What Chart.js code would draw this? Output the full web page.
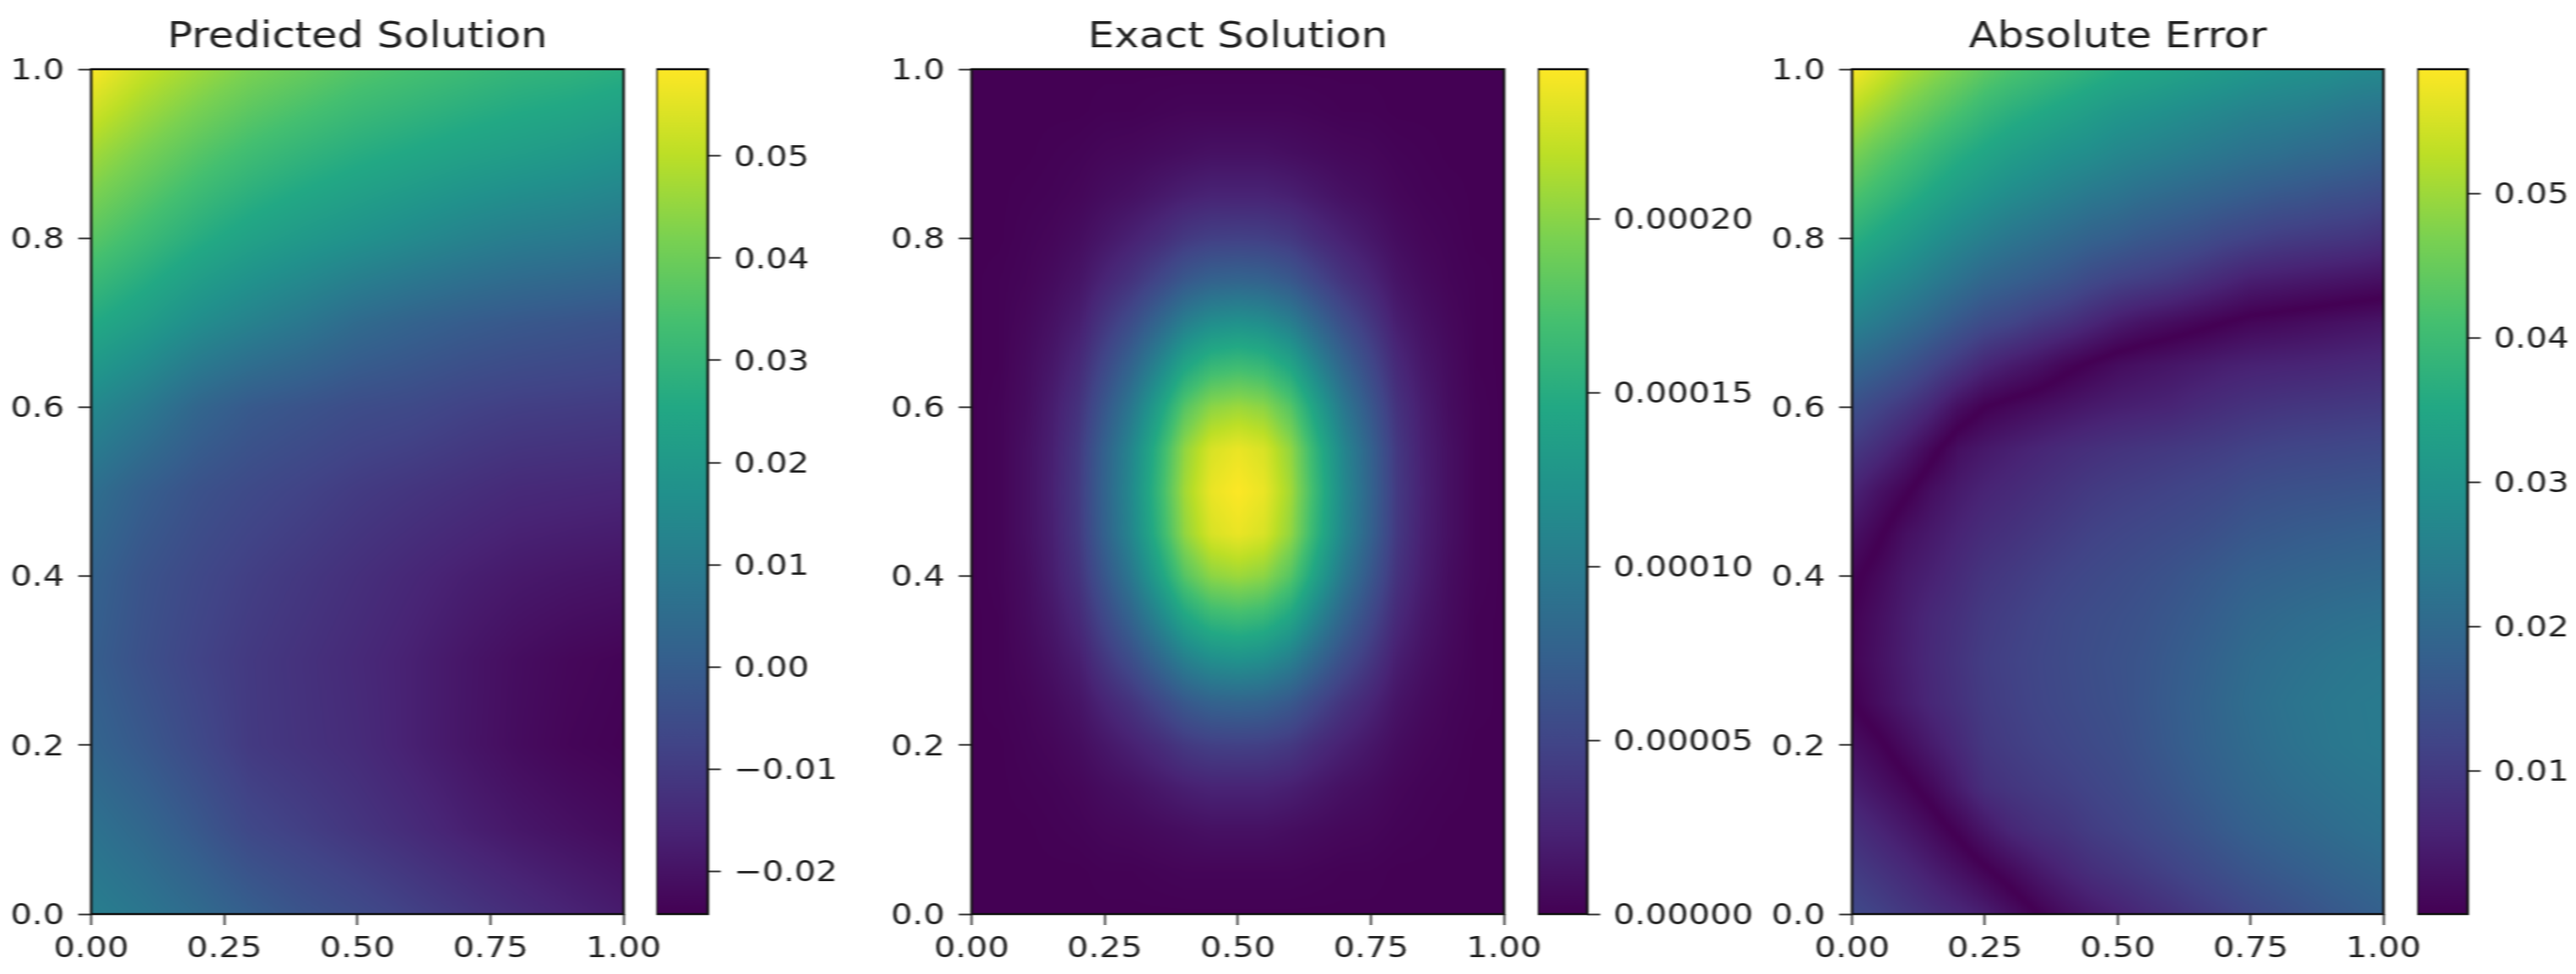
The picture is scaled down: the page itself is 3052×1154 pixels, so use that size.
<!DOCTYPE html>
<html>
<head>
<meta charset="utf-8">
<title>Predicted vs Exact Solution</title>
<script src="https://cdn.jsdelivr.net/npm/chart.js@4"></script>
<style>
    html, body { margin: 0; padding: 0; background: #fff; overflow: hidden; }
    /* the reference is stretched sideways and slightly soft, so the whole sheet is too */
    #sheet { position: absolute; left: 0; top: 0; height: 1154px; transform: scaleX(1.18); transform-origin: 0 0; filter: blur(0.7px); }
    #sheet canvas { position: absolute; top: 0; }
</style>
</head>
<body>
<div id="sheet"></div>
<script>
// Grids run from y=1.0 (first row) down to y=0.0, and from x=0 to x=1 in each row

// Predicted solution, in units of 1e-3
const predictedValues = [
    [58.5, 51.5, 46.5, 42, 39, 36, 34, 32, 30, 29, 27.5],
    [47, 41.5, 36.5, 32.5, 29.5, 27, 25, 23, 21.5, 20, 18],
    [37, 32, 27, 23, 20, 17.5, 15, 12.5, 10.5, 9.5, 8],
    [26, 21.5, 16, 12, 8.5, 4.5, 2, 0, -1.5, -2.5, -3.5],
    [14.5, 9.5, 3, -1, -3, -5, -6, -7.8, -9, -9.5, -10],
    [6, 0.5, -3.5, -6, -8, -10, -11.5, -13, -14.5, -15, -15.5],
    [2, -3, -6.3, -9, -11, -13, -15, -17, -18.5, -19.4, -20],
    [0.5, -4, -7.7, -10.5, -12.5, -14.5, -16.7, -19.2, -21.3, -22.7, -23.5],
    [2.5, -1.5, -6, -10.3, -12.2, -14, -16.7, -19.3, -21.6, -23.2, -24],
    [7, 3.3, -1.5, -6.5, -9, -11.5, -14, -16.8, -19, -20.6, -22],
    [11, 8.2, 4.6, 0.5, -3, -5.5, -8.3, -11, -13.7, -16, -18],
];

// Exact solution, in units of 1e-6
const exactValues = [
    [0, 0, 0, 0, 0, 0, 0, 0, 0, 0, 0, 0, 0, 0, 0, 0, 0, 0, 0, 0, 0],
    [0, 0, 0, 0, 0, 1, 1, 2, 3, 3, 3, 3, 3, 2, 1, 1, 0, 0, 0, 0, 0],
    [0, 0, 0, 1, 2, 4, 5, 7, 9, 11, 11, 11, 9, 7, 5, 4, 2, 1, 0, 0, 0],
    [0, 0, 1, 2, 4, 8, 11, 16, 21, 24, 24, 24, 21, 16, 11, 8, 4, 2, 1, 0, 0],
    [0, 0, 2, 4, 8, 15, 22, 30, 40, 45, 46, 45, 40, 30, 22, 15, 8, 4, 2, 0, 0],
    [0, 1, 3, 7, 13, 25, 36, 51, 67, 76, 78, 76, 67, 51, 36, 25, 13, 7, 3, 1, 0],
    [0, 1, 5, 11, 20, 39, 57, 80, 104, 118, 122, 118, 104, 80, 57, 39, 20, 11, 5, 1, 0],
    [0, 1, 7, 15, 28, 53, 78, 109, 142, 160, 165, 160, 142, 109, 78, 53, 28, 15, 7, 1, 0],
    [0, 2, 8, 19, 35, 66, 97, 136, 178, 201, 207, 201, 178, 136, 97, 66, 35, 19, 8, 2, 0],
    [0, 2, 10, 21, 40, 76, 111, 155, 203, 229, 236, 229, 203, 155, 111, 76, 40, 21, 10, 2, 0],
    [0, 2, 10, 22, 41, 78, 114, 160, 209, 236, 243, 236, 209, 160, 114, 78, 41, 22, 10, 2, 0],
    [0, 2, 10, 21, 40, 76, 111, 155, 203, 229, 236, 229, 203, 155, 111, 76, 40, 21, 10, 2, 0],
    [0, 2, 8, 19, 35, 66, 97, 136, 178, 201, 207, 201, 178, 136, 97, 66, 35, 19, 8, 2, 0],
    [0, 1, 7, 15, 28, 53, 78, 109, 142, 160, 165, 160, 142, 109, 78, 53, 28, 15, 7, 1, 0],
    [0, 1, 5, 11, 20, 39, 57, 80, 104, 118, 122, 118, 104, 80, 57, 39, 20, 11, 5, 1, 0],
    [0, 1, 3, 7, 13, 25, 36, 51, 67, 76, 78, 76, 67, 51, 36, 25, 13, 7, 3, 1, 0],
    [0, 0, 2, 4, 8, 15, 22, 30, 40, 45, 46, 45, 40, 30, 22, 15, 8, 4, 2, 0, 0],
    [0, 0, 1, 2, 4, 8, 11, 16, 21, 24, 24, 24, 21, 16, 11, 8, 4, 2, 1, 0, 0],
    [0, 0, 0, 1, 2, 4, 5, 7, 9, 11, 11, 11, 9, 7, 5, 4, 2, 1, 0, 0, 0],
    [0, 0, 0, 0, 0, 1, 1, 2, 3, 3, 3, 3, 3, 2, 1, 1, 0, 0, 0, 0, 0],
    [0, 0, 0, 0, 0, 0, 0, 0, 0, 0, 0, 0, 0, 0, 0, 0, 0, 0, 0, 0, 0],
];

// Error before taking the magnitude, in units of 1e-3. The sign says which side of the
// dark curve a cell is on, and the magnitude is what gets coloured.
const errorValues = [
    [58.5, 55, 51.5, 49, 46.5, 44, 42, 40.5, 39, 37.5, 36, 35, 34, 33, 32, 31, 30, 29.5, 29, 28, 27.5],
    [52.5, 49.5, 46.5, 44, 41.5, 39, 37, 35.5, 34, 32.5, 31, 30, 29, 28, 27, 26, 25.5, 25, 24, 23, 22.5],
    [47, 44, 41.5, 39, 36.5, 34.5, 32.5, 31, 29.5, 28.5, 27, 26, 25, 24, 23, 22, 21.5, 20.5, 20, 19, 18],
    [42, 39.5, 37, 34.5, 32, 30, 28, 26.5, 25, 23.5, 22.5, 21, 20, 19, 18, 17, 16, 15.5, 14.5, 14, 13],
    [37, 34.5, 32, 29.5, 27, 25, 23, 21.5, 20, 18.5, 17.5, 16, 15, 14, 12.5, 11.5, 10.5, 10, 9.5, 9, 8],
    [31.5, 29, 27, 24.5, 22, 19.5, 18, 16.5, 15, 13, 11.5, 10.5, 9.5, 8, 6.5, 5, 4.5, 4, 3.5, 3, 2.5],
    [26, 24, 21.5, 19, 16, 13.5, 12, 10, 8.5, 6.5, 4.5, 3, 2, 1, 0, -1, -1.5, -2, -2.5, -3, -3.5],
    [20, 18, 15.5, 12.5, 9.5, 6.5, 4.5, 3, 1, -0.5, -2, -2.8, -3.5, -4.2, -5, -5.5, -5.8, -6, -6.3, -6.7, -7],
    [14.5, 12, 9.5, 6.5, 2.5, 0, -1.2, -2.2, -3.2, -4.2, -5, -5.5, -6, -7, -7.8, -8.5, -9, -9.3, -9.5, -9.8, -10],
    [10, 7.5, 4.5, 1, -2.5, -4, -5.2, -6.2, -7.2, -8, -8.7, -9.2, -9.7, -10.2, -10.8, -11.5, -12, -12.3, -12.5, -12.8, -13],
    [6, 3, 0.5, -2.5, -4.5, -6, -7, -8, -9, -10, -10.7, -11.2, -11.8, -12.4, -13, -14, -14.5, -14.8, -15, -15.3, -15.5],
    [3, 0.5, -2.5, -4.2, -6, -7.5, -8.5, -9.5, -10.5, -11.5, -12.2, -12.8, -13.4, -14, -15, -16, -16.5, -17, -17.3, -17.7, -18],
    [0.8, -1.5, -4, -5.5, -7.3, -9, -10, -11, -12, -12.8, -13.5, -14.2, -15, -16, -17, -18, -18.5, -19, -19.4, -19.7, -20],
    [-0.3, -2.5, -4.8, -6.8, -8.3, -10, -11, -12, -13, -13.7, -14.3, -15, -16, -17, -18.2, -19.5, -20.2, -20.8, -21.3, -21.7, -22],
    [-0.6, -2.8, -5, -7, -8.8, -10.5, -11.5, -12.4, -13.2, -14, -14.7, -15.5, -16.7, -17.8, -19.2, -20.5, -21.3, -22, -22.7, -23.2, -23.5],
    [0.2, -2.2, -4.5, -6.6, -8.4, -10.2, -11.2, -12.2, -13, -13.8, -14.5, -15.7, -17, -18.2, -19.7, -21, -22, -22.8, -23.4, -23.8, -24],
    [2.5, 0.6, -2, -4.5, -7, -9.5, -10.6, -11.5, -12.3, -13.2, -14, -15.3, -16.7, -18, -19.3, -20.5, -21.6, -22.4, -23.2, -23.7, -24],
    [5, 3, 1, -1.5, -4.8, -8, -9.3, -10.2, -11, -12, -13, -14.3, -15.6, -17, -18.3, -19.5, -20.5, -21.3, -22, -22.6, -23],
    [8, 6, 4, 1.8, -0.8, -3.8, -6.5, -8, -9, -10.5, -11.5, -12.7, -14, -15.3, -16.8, -18, -19, -19.8, -20.6, -21.4, -22],
    [10.5, 8.8, 7, 5, 2.9, 0.6, -1.7, -4, -6, -7.8, -9, -10.2, -11.5, -12.8, -14.2, -15.5, -16.6, -17.5, -18.5, -19.3, -20],
    [13, 11.5, 9.8, 8.2, 6.7, 5, 2.5, 0, -2.2, -4, -5.5, -7, -8.3, -9.7, -11, -12.5, -13.7, -14.8, -16, -17, -18],
];

const titles = ['Predicted Solution', 'Exact Solution', 'Absolute Error'];

const xTicks = [0, 0.25, 0.5, 0.75, 1];
const xTickLabels = ['0.00', '0.25', '0.50', '0.75', '1.00'];
const yTicks = [0, 0.2, 0.4, 0.6, 0.8, 1];
const yTickLabels = ['0.0', '0.2', '0.4', '0.6', '0.8', '1.0'];

const predictedBarTicks = [-0.02, -0.01, 0, 0.01, 0.02, 0.03, 0.04, 0.05];
const predictedBarLabels = ['\u22120.02', '\u22120.01', '0.00', '0.01', '0.02', '0.03', '0.04', '0.05'];
const exactBarTicks = [0, 0.00005, 0.0001, 0.00015, 0.0002];
const exactBarLabels = ['0.00000', '0.00005', '0.00010', '0.00015', '0.00020'];
const errorBarTicks = [0.01, 0.02, 0.03, 0.04, 0.05];
const errorBarLabels = ['0.01', '0.02', '0.03', '0.04', '0.05'];

const predictedRange = [-0.0242, 0.0585];
const exactRange = [0, 0.000243];
const errorRange = [0.0001, 0.0586];

const viridis = ['#440154', '#482475', '#414487', '#355f8d', '#2a788e', '#21918c', '#22a884', '#44bf70', '#7ad151', '#bddf26', '#fde725'];

// Layout, in reference pixels
const STRETCH = 1.18;
const PLOT_TOP = 82;
const PLOT_BOTTOM = 1083;
const panels = [
    { left: 108, right: 739, barLeft: 778, barRight: 839 },
    { left: 1151, right: 1782, barLeft: 1822, barRight: 1881 },
    { left: 2194, right: 2824, barLeft: 2864, barRight: 2924 },
];

const TEXT_COLOR = '#222';
const TICK_COLOR = '#333';
const TICK_FONT = { family: '"DejaVu Sans"', size: 34 };
const TICK_LENGTH = 13;
const LABEL_DROP = 3;

const rgbStops = viridis.map((hex) => [1, 3, 5].map((i) => parseInt(hex.slice(i, i + 2), 16)));

const colorAt = (t) => {
    const pos = Math.min(Math.max(t, 0), 1) * (rgbStops.length - 1);
    const i = Math.min(Math.floor(pos), rgbStops.length - 2);
    const f = pos - i;
    return rgbStops[i].map((c, k) => c + (rgbStops[i + 1][k] - c) * f);
};

// Paints a grid like imshow with bilinear interpolation, going through the chart's scales
const heatmapPlugin = (grid, unit, range, magnitude) => ({
    id: 'heatmap',
    beforeDatasetsDraw(chart) {
        const { ctx, chartArea, scales } = chart;
        const rows = grid.length;
        const cols = grid[0].length;
        const w = Math.round(chartArea.width);
        const h = Math.round(chartArea.height);
        const off = document.createElement('canvas');
        off.width = w;
        off.height = h;
        const offCtx = off.getContext('2d');
        const img = offCtx.createImageData(w, h);
        for (let py = 0; py < h; py++) {
            const yVal = scales.y.getValueForPixel(chartArea.top + py + 0.5);
            const rowPos = Math.min(Math.max((1 - yVal) * (rows - 1), 0), rows - 1);
            const r0 = Math.min(Math.floor(rowPos), rows - 2);
            const fy = rowPos - r0;
            for (let px = 0; px < w; px++) {
                const xVal = scales.x.getValueForPixel(chartArea.left + px + 0.5);
                const colPos = Math.min(Math.max(xVal * (cols - 1), 0), cols - 1);
                const c0 = Math.min(Math.floor(colPos), cols - 2);
                const fx = colPos - c0;
                const top = grid[r0][c0] * (1 - fx) + grid[r0][c0 + 1] * fx;
                const bottom = grid[r0 + 1][c0] * (1 - fx) + grid[r0 + 1][c0 + 1] * fx;
                const raw = (top * (1 - fy) + bottom * fy) * unit;
                const value = magnitude ? Math.abs(raw) : raw;
                const rgb = colorAt((value - range[0]) / (range[1] - range[0]));
                const k = (py * w + px) * 4;
                img.data[k] = rgb[0];
                img.data[k + 1] = rgb[1];
                img.data[k + 2] = rgb[2];
                img.data[k + 3] = 255;
            }
        }
        offCtx.putImageData(img, 0, 0);
        ctx.drawImage(off, chartArea.left, chartArea.top, chartArea.width, chartArea.height);
    },
});

const colorbarPlugin = (range) => ({
    id: 'colorbar',
    beforeDatasetsDraw(chart) {
        const { ctx, chartArea, scales } = chart;
        const bottom = scales.y.getPixelForValue(range[0]);
        const top = scales.y.getPixelForValue(range[1]);
        const gradient = ctx.createLinearGradient(0, bottom, 0, top);
        viridis.forEach((color, i) => gradient.addColorStop(i / (viridis.length - 1), color));
        ctx.fillStyle = gradient;
        ctx.fillRect(chartArea.left, top, chartArea.width, bottom - top);
    },
});

const framePlugin = {
    id: 'frame',
    afterDraw(chart) {
        const { ctx, chartArea } = chart;
        ctx.save();
        ctx.strokeStyle = '#111';
        ctx.lineWidth = 2.5;
        ctx.strokeRect(chartArea.left, chartArea.top, chartArea.width, chartArea.height);
        ctx.restore();
    },
};

const sheet = document.getElementById('sheet');
sheet.style.width = `${3052 / STRETCH}px`;

const addCanvas = (left, width) => {
    const canvas = document.createElement('canvas');
    canvas.style.left = `${left / STRETCH}px`;
    canvas.width = Math.round(width / STRETCH);
    canvas.height = 1154;
    sheet.appendChild(canvas);
    return canvas.getContext('2d');
};

const tickOptions = (labels, padding, labelOffset) => ({
    color: TEXT_COLOR,
    font: TICK_FONT,
    padding: padding,
    labelOffset: labelOffset,
    autoSkip: false,
    maxRotation: 0,
    callback: (value, index) => labels[index],
});

const gridOptions = {
    drawOnChartArea: false,
    drawTicks: true,
    tickLength: TICK_LENGTH,
    tickWidth: 2,
    tickColor: TICK_COLOR,
};

const setTicks = (values) => (scale) => {
    scale.ticks = values.map((value) => ({ value }));
};

const drawPanel = (panel, title, grid, unit, range, magnitude) => {
    const leftRoom = 108;
    const rightRoom = 60;
    const plotWidth = panel.right - panel.left;
    const titleSize = 42;
    const titleTop = 20;

    new Chart(addCanvas(panel.left - leftRoom, leftRoom + plotWidth + rightRoom), {
        type: 'scatter',
        data: {
            datasets: [{
                data: grid.flatMap((row, r) => row.map((v, c) => ({
                    x: c / (row.length - 1),
                    y: 1 - r / (grid.length - 1),
                }))),
                pointRadius: 0,
                showLine: false,
            }],
        },
        options: {
            responsive: false,
            animation: false,
            layout: { autoPadding: false, padding: { right: rightRoom / STRETCH } },
            plugins: {
                legend: { display: false },
                tooltip: { enabled: false },
                title: {
                    display: true,
                    text: title,
                    color: TEXT_COLOR,
                    fullSize: false,
                    font: { family: '"DejaVu Sans"', size: titleSize, weight: 'normal', lineHeight: 1.2 },
                    padding: { top: titleTop, bottom: PLOT_TOP - titleTop - titleSize * 1.2 },
                },
            },
            scales: {
                x: {
                    type: 'linear',
                    min: 0,
                    max: 1,
                    border: { display: false },
                    grid: gridOptions,
                    ticks: tickOptions(xTickLabels, 9, 0),
                    afterBuildTicks: setTicks(xTicks),
                    afterFit: (scale) => { scale.height = 1154 - PLOT_BOTTOM; },
                },
                y: {
                    type: 'linear',
                    min: 0,
                    max: 1,
                    border: { display: false },
                    grid: gridOptions,
                    ticks: tickOptions(yTickLabels, 14, LABEL_DROP),
                    afterBuildTicks: setTicks(yTicks),
                    afterFit: (scale) => { scale.width = leftRoom / STRETCH; },
                },
            },
        },
        plugins: [heatmapPlugin(grid, unit, range, magnitude), framePlugin],
    });
};

const drawColorbar = (panel, range, ticks, labels) => {
    const barWidth = panel.barRight - panel.barLeft;
    const rightRoom = 260;

    new Chart(addCanvas(panel.barLeft, barWidth + rightRoom), {
        type: 'scatter',
        data: { datasets: [{ data: [] }] },
        options: {
            responsive: false,
            animation: false,
            layout: { autoPadding: false, padding: { top: PLOT_TOP, bottom: 1154 - PLOT_BOTTOM } },
            plugins: { legend: { display: false }, tooltip: { enabled: false } },
            scales: {
                x: { type: 'linear', display: false },
                y: {
                    type: 'linear',
                    position: 'right',
                    min: range[0],
                    max: range[1],
                    border: { display: false },
                    grid: gridOptions,
                    ticks: tickOptions(labels, 13, LABEL_DROP),
                    afterBuildTicks: setTicks(ticks),
                    afterFit: (scale) => { scale.width = rightRoom / STRETCH; },
                },
            },
        },
        plugins: [colorbarPlugin(range), framePlugin],
    });
};

drawPanel(panels[0], titles[0], predictedValues, 1e-3, predictedRange, false);
drawPanel(panels[1], titles[1], exactValues, 1e-6, exactRange, false);
drawPanel(panels[2], titles[2], errorValues, 1e-3, errorRange, true);

drawColorbar(panels[0], predictedRange, predictedBarTicks, predictedBarLabels);
drawColorbar(panels[1], exactRange, exactBarTicks, exactBarLabels);
drawColorbar(panels[2], errorRange, errorBarTicks, errorBarLabels);
</script>
</body>
</html>
